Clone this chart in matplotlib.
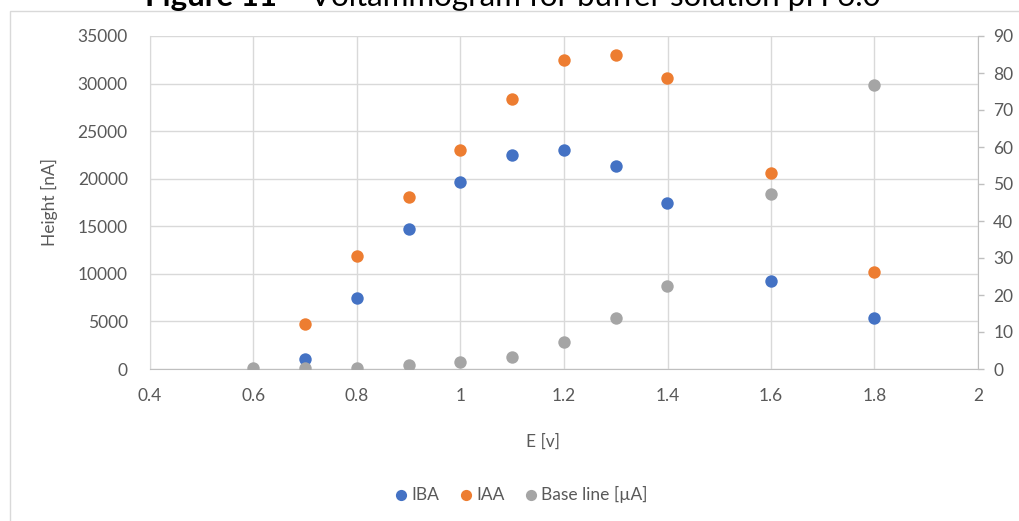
import numpy as np
import matplotlib.pyplot as plt
from matplotlib.patches import Rectangle

# potential [V] and peak heights
e_iba = [0.7, 0.8, 0.9, 1.0, 1.1, 1.2, 1.3, 1.4, 1.6, 1.8]
iba = [1000, 7500, 14700, 19700, 22500, 23000, 21300, 17450, 9300, 5400]

e_iaa = [0.7, 0.8, 0.9, 1.0, 1.1, 1.2, 1.3, 1.4, 1.6, 1.8]
iaa = [4750, 11900, 18050, 23000, 28400, 32450, 33000, 30600, 20600, 10200]

e_base = [0.6, 0.7, 0.8, 0.9, 1.0, 1.1, 1.2, 1.3, 1.4, 1.6, 1.8]
base = [0.2, 0.3, 0.3, 1.0, 1.9, 3.3, 7.2, 13.9, 22.4, 47.3, 76.8]

txt = '#595959'
grid = '#D9D9D9'
fs = 12.5
plt.rcParams['font.family'] = ['Lato', 'DejaVu Sans']

fig = plt.figure(figsize=(10.19, 5.21), dpi=100)
ax = fig.add_axes([150/1019, 1-369/521, 828/1019, 333/521])
ax2 = ax.twinx()

# chart frame
fig.patches.append(Rectangle((10/1019, -0.1), 1.2, 1-11/521+0.1, transform=fig.transFigure,
                             fill=False, edgecolor='#D9D9D9', lw=1))

# title sits at the very top of the figure
t1 = fig.text(145/1019, 1-6/521, 'Figure 11 \u2013 ', fontsize=22.5, fontweight='bold',
              color='black', va='baseline', ha='left')
ax.annotate('Voltammogram for buffer solution pH 6.0', xy=(1, 0), xycoords=t1,
            fontsize=22.5, color='black', va='bottom', ha='left', annotation_clip=False)

s = 80
ax.scatter(e_iba, iba, s=s, color='#4472C4', label='IBA', zorder=3, lw=0)
ax.scatter(e_iaa, iaa, s=s, color='#ED7D31', label='IAA', zorder=3, lw=0)
ax2.scatter(e_base, base, s=s, color='#A5A5A5', label='Base line [\u00b5A]', zorder=3, lw=0)

ax.set_xlim(0.4, 2)
ax.set_ylim(0, 35000)
ax2.set_ylim(0, 90)
ax.set_xticks(np.arange(0.4, 2.01, 0.2))
ax.set_xticklabels(['0.4', '0.6', '0.8', '1', '1.2', '1.4', '1.6', '1.8', '2'])
ax.set_yticks(np.arange(0, 35001, 5000))
ax2.set_yticks(np.arange(0, 91, 10))

ax.grid(True, color=grid, lw=1)
ax.set_axisbelow(True)
for sp in ['top', 'right']:
    ax.spines[sp].set_visible(False)
ax.spines['left'].set_color(grid)
ax.spines['bottom'].set_color('#BFBFBF')
for sp in ['top', 'left', 'bottom']:
    ax2.spines[sp].set_visible(False)
ax2.spines['right'].set_color('#BFBFBF')

ax.tick_params(axis='y', length=0, pad=16, labelsize=fs, labelcolor=txt)
ax.tick_params(axis='x', length=0, pad=14, labelsize=fs, labelcolor=txt)
ax2.tick_params(axis='y', length=4, width=1, color='#BFBFBF', pad=7,
                labelsize=fs, labelcolor=txt)

ax.set_ylabel('Height [nA]', fontsize=fs, color=txt)
ax.yaxis.set_label_coords(-92/828, 0.5)
ax.set_xlabel('E [v]', fontsize=fs, color=txt)
ax.xaxis.set_label_coords((543-150)/828, -65/333)

h1, l1 = ax.get_legend_handles_labels()
h2, l2 = ax2.get_legend_handles_labels()
leg = fig.legend(h1 + h2, l1 + l2, loc='center', bbox_to_anchor=(521/1019, 1-494/521),
                 ncol=3, frameon=False, fontsize=fs, handlelength=0.8,
                 handletextpad=0.2, columnspacing=1.1, markerscale=0.9)
for t in leg.get_texts():
    t.set_color(txt)

fig.savefig('out.png', dpi=100)
